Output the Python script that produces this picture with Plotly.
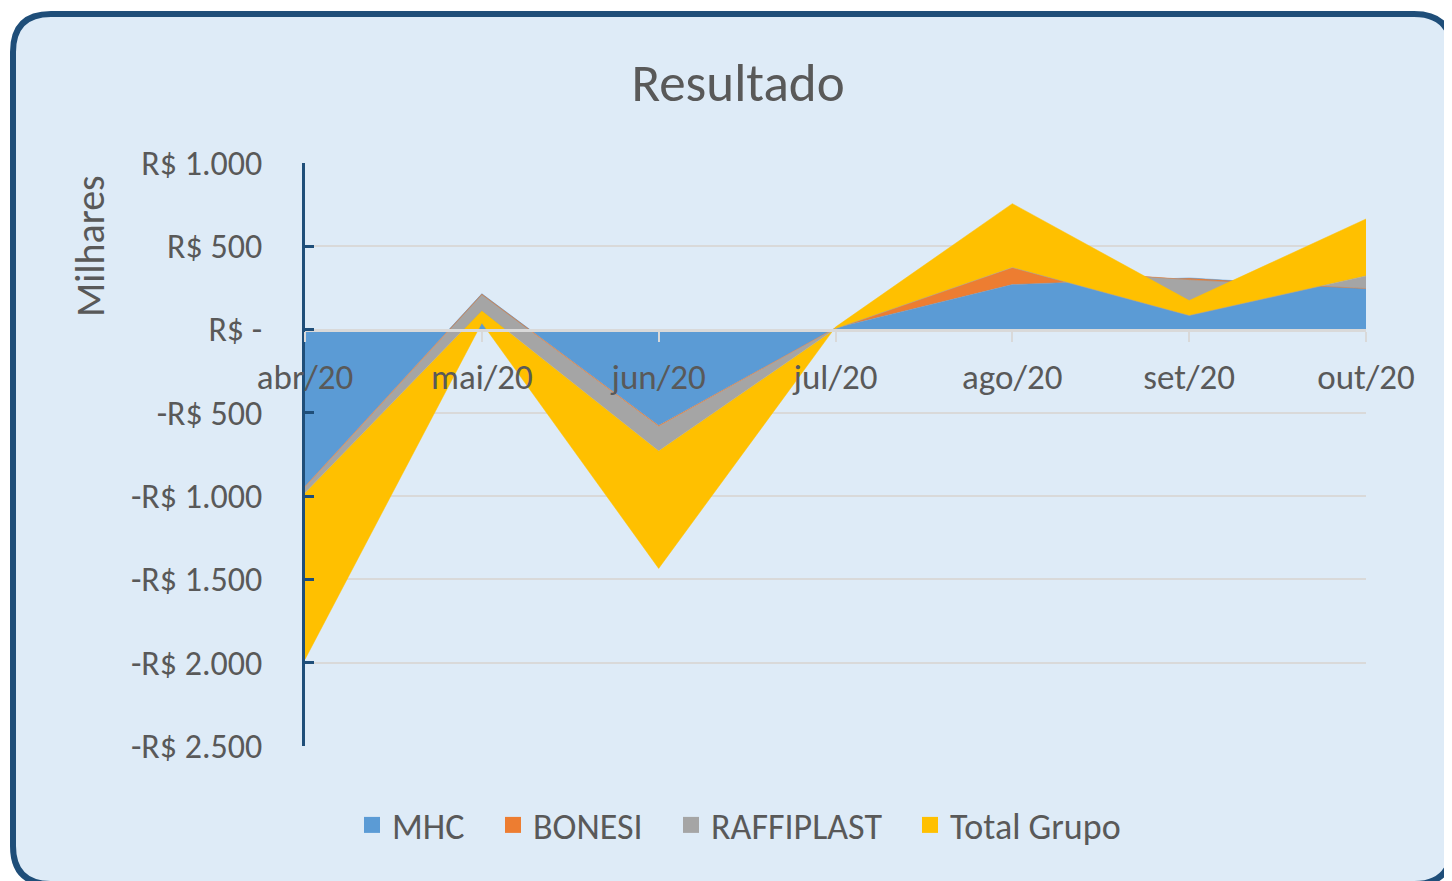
import plotly.graph_objects as go

# monthly results per company (R$ thousands)
meses = ["abr/20", "mai/20", "jun/20", "jul/20", "ago/20", "set/20", "out/20"]
mhc = [-940, 215, -575, 10, 270, 310, 246]
bonesi = [-5, -5, -5, 0, 102, -10, 0]
raffiplast = [-35, -95, -147, -5, 0, -216, 76]
total_grupo = [-1000, -75, -707, 10, 384, 90, 342]

y_ticks = [1000, 500, 0, -500, -1000, -1500, -2000, -2500]
y_labels = ["R$ 1.000", "R$ 500", "R$ -", "-R$ 500", "-R$ 1.000",
            "-R$ 1.500", "-R$ 2.000", "-R$ 2.500"]

# page has an 8px body margin, so the figure is shifted by OFF
OFF = 8
W, H = 1452 - OFF, 881 - OFF
ML, MT = 305 - OFF, 163 - OFF
MR, MB = W - (1366 - OFF), H - (746 - OFF)
FONT = "Calibri, Carlito, Lato, sans-serif"
GREY_TXT = "#595959"
NAVY = "#1F4E79"


def px_to_paper(x, y):
    # page pixels -> paper coordinates of the plot area
    x, y = x - OFF, y - OFF
    return (x - ML) / (W - ML - MR), 1 - (y - MT) / (H - MT - MB)


series = [("MHC", mhc, "#5B9BD5"),
          ("BONESI", bonesi, "#ED7D31"),
          ("RAFFIPLAST", raffiplast, "#A5A5A5"),
          ("Total Grupo", total_grupo, "#FFC000")]
# left edge (page px) of each legend key, as in the reference
legend_left = [352, 493, 671, 910]

fig = go.Figure()
for name, vals, col in series:
    fig.add_trace(go.Scatter(x=meses, y=vals, name=name, mode="lines",
                             stackgroup="one", fillcolor=col, showlegend=False,
                             legendgroup=name, line=dict(color=col, width=0.5)))

legends = {}
ly = px_to_paper(0, 825)[1]
for i, (name, vals, col) in enumerate(series):
    key = "legend" if i == 0 else f"legend{i + 1}"
    fig.add_trace(go.Scatter(x=[None], y=[None], name=name, mode="markers",
                             legendgroup=name, legend=key,
                             marker=dict(symbol="square", size=20, color=col)))
    legends[key] = dict(x=px_to_paper(legend_left[i], 0)[0], y=ly,
                        xanchor="left", yanchor="middle", orientation="h",
                        font=dict(family=FONT, size=36, color=GREY_TXT),
                        bgcolor="rgba(0,0,0,0)", itemwidth=30)

# rounded chart-area frame
r = 38
x0, y0, x1, y1 = 13, 14, 1452, 884
path = (f"M {x0 + r},{y0} L {x1 - r},{y0} Q {x1},{y0} {x1},{y0 + r} "
        f"L {x1},{y1 - r} Q {x1},{y1} {x1 - r},{y1} L {x0 + r},{y1} "
        f"Q {x0},{y1} {x0},{y1 - r} L {x0},{y0 + r} Q {x0},{y0} {x0 + r},{y0} Z")


def conv(p):
    out = []
    for tok in p.split():
        if "," in tok:
            a, b = tok.split(",")
            px, py = px_to_paper(float(a), float(b))
            out.append(f"{px:.5f},{py:.5f}")
        else:
            out.append(tok)
    return " ".join(out)


fig.add_shape(type="path", path=conv(path), xref="paper", yref="paper",
              fillcolor="#DEEBF7", line=dict(color=NAVY, width=6), layer="below")

ax, ay = px_to_paper(90, 246)
fig.add_annotation(text="Milhares", x=ax, y=ay, xref="paper", yref="paper",
                   textangle=-90, showarrow=False, xanchor="center", yanchor="middle",
                   font=dict(family=FONT, size=40, color=GREY_TXT))

zero_pos = (0 - min(y_ticks)) / (max(y_ticks) - min(y_ticks))

fig.update_layout(
    width=W, height=H,
    margin=dict(l=ML, r=MR, t=MT, b=MB),
    paper_bgcolor="white",
    plot_bgcolor="rgba(0,0,0,0)",
    font=dict(family=FONT, color=GREY_TXT),
    title=dict(text="Resultado", x=(738 - OFF) / W, y=1 - (82 - OFF) / H,
               xanchor="center", yanchor="middle",
               font=dict(family=FONT, size=53, color=GREY_TXT)),
    showlegend=True,
    xaxis=dict(type="category", range=[0, len(meses) - 1],
               anchor="free", position=zero_pos,
               showline=True, linecolor="#D9D9D9", linewidth=3,
               ticks="outside", ticklen=10, tickcolor="#D9D9D9", tickwidth=2,
               showgrid=False, tickfont=dict(family=FONT, size=35, color=GREY_TXT),
               ticklabelstandoff=5, layer="above traces"),
    yaxis=dict(range=[min(y_ticks), max(y_ticks)], tickvals=y_ticks, ticktext=y_labels,
               showline=True, linecolor=NAVY, linewidth=3,
               ticks="inside", ticklen=9, tickcolor=NAVY, tickwidth=3,
               showgrid=True, gridcolor="#D9D9D9", gridwidth=2, zeroline=False,
               tickfont=dict(family=FONT, size=34, color=GREY_TXT),
               ticklabelstandoff=33, layer="above traces"),
    **legends,
)

fig.write_html("out.html")
